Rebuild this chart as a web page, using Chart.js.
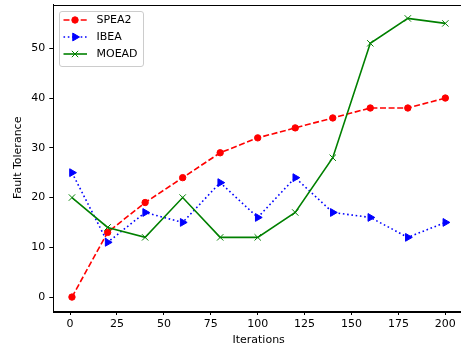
<!DOCTYPE html>
<html>
<head>
<meta charset="utf-8">
<script src="https://cdn.jsdelivr.net/npm/chart.js@4/dist/chart.umd.min.js"></script>
<style>
  html, body { margin: 0; padding: 0; background: #fff; overflow: hidden; }
</style>
</head>
<body>
<canvas id="faultChart" width="464" height="353"></canvas>
<script>
// values
const iterations = [1, 20, 40, 60, 80, 100, 120, 140, 160, 180, 200];
const spea2 = [0, 13, 19, 24, 29, 32, 34, 36, 38, 38, 40];
const ibea = [25, 11, 17, 15, 23, 16, 24, 17, 16, 12, 15];
const moead = [20, 14, 12, 20, 12, 12, 17, 28, 51, 56, 55];
const xTicks = [0, 25, 50, 75, 100, 125, 150, 175, 200];
const yTicks = [0, 10, 20, 30, 40, 50];

const FONT = { family: 'DejaVu Sans', size: 11 };

function pts(ys) {
    return iterations.map((x, i) => ({ x, y: ys[i] }));
}

// box around the plot plus a matplotlib-style legend
const framePlugin = {
    id: 'frame',
    afterDraw(chart) {
        const { ctx, chartArea: a } = chart;
        ctx.save();
        ctx.strokeStyle = '#000';
        ctx.lineWidth = 1;
        ctx.strokeRect(Math.round(a.left) + 0.5, Math.round(a.top) + 0.5,
            Math.round(a.right - a.left), Math.round(a.bottom - a.top));

        const x0 = 59.5, y0 = 11.5, w = 84, h = 55;
        ctx.fillStyle = 'rgba(255,255,255,0.8)';
        ctx.strokeStyle = '#cccccc';
        ctx.beginPath();
        ctx.roundRect(x0, y0, w, h, 2.5);
        ctx.fill();
        ctx.stroke();

        chart.data.datasets.forEach((ds, i) => {
            const cy = 20 + i * 17;
            ctx.strokeStyle = ds.borderColor;
            ctx.lineWidth = ds.borderWidth;
            ctx.setLineDash(ds.borderDash || []);
            ctx.beginPath();
            ctx.moveTo(63.5, cy);
            ctx.lineTo(87, cy);
            ctx.stroke();
            ctx.setLineDash([]);
            drawMarker(ctx, ds, 75, cy);
            ctx.fillStyle = '#000';
            ctx.font = '11px "DejaVu Sans"';
            ctx.textBaseline = 'middle';
            ctx.textAlign = 'left';
            ctx.fillText(ds.label, 96.5, cy + 0.5);
        });
        ctx.restore();
    }
};

function drawMarker(ctx, ds, x, y) {
    const r = ds.pointRadius;
    ctx.fillStyle = ds.borderColor;
    ctx.strokeStyle = ds.borderColor;
    ctx.lineWidth = 1;
    ctx.beginPath();
    if (ds.pointStyle === 'circle') {
        ctx.arc(x, y, r, 0, Math.PI * 2);
        ctx.fill();
        ctx.stroke();
    } else if (ds.pointStyle === 'triangle') {
        for (let k = 0; k < 3; k++) {
            const ang = (ds.pointRotation * Math.PI / 180) + k * 2 * Math.PI / 3;
            const px = x + Math.sin(ang) * r, py = y - Math.cos(ang) * r;
            if (k === 0) ctx.moveTo(px, py); else ctx.lineTo(px, py);
        }
        ctx.closePath();
        ctx.fill();
        ctx.stroke();
    } else {
        const d = r * Math.SQRT1_2;
        ctx.moveTo(x - d, y - d); ctx.lineTo(x + d, y + d);
        ctx.moveTo(x - d, y + d); ctx.lineTo(x + d, y - d);
        ctx.stroke();
    }
}

const ctx = document.getElementById('faultChart').getContext('2d');
new Chart(ctx, {
    type: 'line',
    data: {
        datasets: [
            {
                label: 'SPEA2', data: pts(spea2),
                borderColor: '#ff0000', backgroundColor: '#ff0000',
                borderWidth: 1.6, borderDash: [6, 2.6],
                pointStyle: 'circle', pointRadius: 3.2, pointBorderWidth: 1, pointRotation: 0,
                order: 2
            },
            {
                label: 'IBEA', data: pts(ibea),
                borderColor: '#0000ff', backgroundColor: '#0000ff',
                borderWidth: 1.6, borderDash: [1.6, 2.7],
                pointStyle: 'triangle', pointRadius: 4.5, pointBorderWidth: 1, pointRotation: 90,
                order: 1
            },
            {
                label: 'MOEAD', data: pts(moead),
                borderColor: '#008000', backgroundColor: '#008000',
                borderWidth: 1.6,
                pointStyle: 'crossRot', pointRadius: 4.5, pointBorderWidth: 1, pointRotation: 0,
                order: 0
            }
        ]
    },
    options: {
        responsive: false,
        animation: false,
        layout: { autoPadding: false, padding: { top: 4.5, right: 0, bottom: 0, left: 0 } },
        plugins: { legend: { display: false }, tooltip: { enabled: false } },
        elements: { line: { tension: 0, fill: false } },
        scales: {
            x: {
                type: 'linear', min: -8.95, max: 209.95,
                afterBuildTicks: s => { s.ticks = xTicks.map(v => ({ value: v })); },
                afterFit: s => { s.height = 42; s.paddingLeft = 0; s.paddingRight = 0; },
                grid: { drawOnChartArea: false, tickLength: 4, tickColor: '#000' },
                border: { color: '#000' },
                ticks: { font: FONT, color: '#000', padding: 3, maxRotation: 0 },
                title: { display: true, text: 'Iterations', font: FONT, color: '#000', padding: { top: 0, bottom: 6 } }
            },
            y: {
                type: 'linear', min: -2.8, max: 58.8,
                afterBuildTicks: s => { s.ticks = yTicks.map(v => ({ value: v })); },
                afterFit: s => { s.width = 53.3; s.paddingTop = 0; s.paddingBottom = 0; },
                grid: { drawOnChartArea: false, tickLength: 4, tickColor: '#000' },
                border: { color: '#000' },
                ticks: { font: FONT, color: '#000', padding: 4 },
                title: { display: true, text: 'Fault Tolerance', font: FONT, color: '#000', padding: { top: 12, bottom: 0 } }
            }
        }
    },
    plugins: [framePlugin]
});
</script>
</body>
</html>
